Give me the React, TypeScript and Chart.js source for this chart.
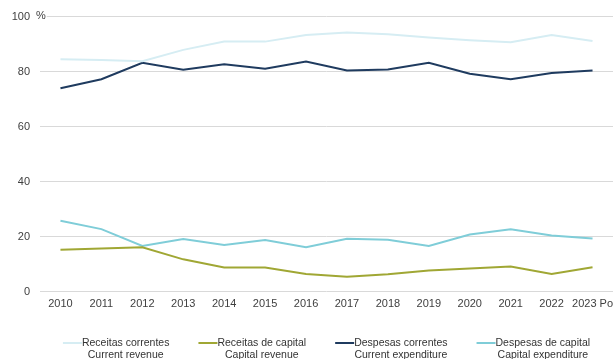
import React, { useEffect, useRef } from "react";
import { Chart, registerables } from "chart.js";

Chart.register(...registerables);

const categories = ["2010", "2011", "2012", "2013", "2014", "2015", "2016", "2017", "2018", "2019", "2020", "2021", "2022", "2023 Po"];

const receitasCorrentes = [84.5, 84.2, 83.8, 87.9, 90.9, 90.9, 93.3, 94.2, 93.6, 92.4, 91.4, 90.7, 93.3, 91.1];
const receitasCapital = [15.2, 15.6, 16.1, 11.7, 8.7, 8.7, 6.4, 5.4, 6.3, 7.6, 8.4, 9.1, 6.4, 8.8];
const despesasCorrentes = [73.9, 77.2, 83.2, 80.7, 82.7, 81.0, 83.7, 80.4, 80.8, 83.2, 79.2, 77.2, 79.5, 80.4];
const despesasCapital = [25.7, 22.7, 16.6, 19.1, 16.9, 18.7, 16.1, 19.2, 18.8, 16.6, 20.7, 22.6, 20.4, 19.3];

const seriesLabels = [
  ["Receitas correntes", "Current revenue"],
  ["Receitas de capital", "Capital revenue"],
  ["Despesas correntes", "Current expenditure"],
  ["Despesas de capital", "Capital expenditure"],
];
const seriesColors = ["#d6edf3", "#a0a734", "#1f3b5f", "#7fcdd8"];

const yTicks = [0, 20, 40, 60, 80, 100];
const unitLabel = "%";

const FONT = "'Liberation Sans', Arial, sans-serif";

const percentPlugin = {
  id: "percentLabel",
  afterDraw(chart: any) {
    const ctx = chart.ctx;
    const y = chart.scales.y.getPixelForValue(100);
    ctx.save();
    ctx.font = `11px ${FONT}`;
    const w = ctx.measureText(unitLabel).width;
    const x = chart.chartArea.left - 4;
    ctx.fillStyle = "#ffffff";
    ctx.fillRect(x - 1, y - 3, w + 2, 6);
    ctx.fillStyle = "#404040";
    ctx.textAlign = "left";
    ctx.textBaseline = "middle";
    ctx.fillText(unitLabel, x, y - 1);
    ctx.restore();
  },
};

const legendPlugin = {
  id: "customLegend",
  afterDraw(chart: any) {
    const ctx = chart.ctx;
    ctx.save();
    ctx.font = `10.5px ${FONT}`;
    const lineLen = 19;
    const gap = 29;
    const widths = seriesLabels.map((lines) => Math.max(...lines.map((t) => ctx.measureText(t).width)));
    const total = widths.reduce((a, b) => a + b + lineLen, 0) + gap * (widths.length - 1);
    const center = (chart.chartArea.left + chart.chartArea.right) / 2;
    let x = center - total / 2;
    const y1 = 343;
    const lh = 12;
    seriesLabels.forEach((lines, i) => {
      ctx.strokeStyle = seriesColors[i];
      ctx.lineWidth = 2;
      ctx.beginPath();
      ctx.moveTo(x, y1);
      ctx.lineTo(x + lineLen, y1);
      ctx.stroke();
      const tx = x + lineLen + widths[i] / 2;
      ctx.fillStyle = "#333333";
      ctx.textAlign = "center";
      ctx.textBaseline = "middle";
      lines.forEach((t, j) => ctx.fillText(t, tx, y1 + j * lh));
      x += lineLen + widths[i] + gap;
    });
    ctx.restore();
  },
};

export default function App() {
  const ref = useRef<HTMLCanvasElement>(null);
  useEffect(() => {
    const series = [receitasCorrentes, receitasCapital, despesasCorrentes, despesasCapital];
    const chart = new Chart(ref.current!, {
      type: "line",
      data: {
        labels: categories,
        datasets: series.map((d, i) => ({
          label: seriesLabels[i].join(" "),
          data: d,
          borderColor: seriesColors[i],
          backgroundColor: seriesColors[i],
          borderWidth: 2,
          pointRadius: 0,
          tension: 0,
          fill: false,
        })),
      },
      options: {
        animation: false,
        responsive: false,
        maintainAspectRatio: false,
        layout: { padding: { top: 15, right: 0, left: 0, bottom: 0 } },
        plugins: { legend: { display: false }, tooltip: { enabled: false } },
        scales: {
          x: {
            offset: true,
            grid: { display: false, drawTicks: false },
            border: { display: false },
            ticks: { color: "#404040", font: { family: FONT, size: 11 }, padding: 6, maxRotation: 0, autoSkip: false },
            afterFit: (s: any) => {
              s.height = 67.5;
              s.paddingRight = 0;
              s.paddingLeft = 0;
            },
          },
          y: {
            min: 0,
            max: 100,
            afterBuildTicks: (s: any) => {
              s.ticks = yTicks.map((v) => ({ value: v }));
            },
            grid: { color: "#d9d9d9", lineWidth: 1, drawTicks: false },
            border: { display: false },
            ticks: { color: "#404040", font: { family: FONT, size: 11 }, padding: 10 },
            afterFit: (s: any) => {
              s.width = 40;
            },
          },
        },
      },
      plugins: [percentPlugin, legendPlugin],
    });
    return () => chart.destroy();
  }, []);
  return (
    <div style={{ position: "absolute", left: 0, top: 0, width: 613, height: 359, background: "#fff" }}>
      <canvas ref={ref} width={613} height={359} style={{ width: 613, height: 359 }} />
    </div>
  );
}
